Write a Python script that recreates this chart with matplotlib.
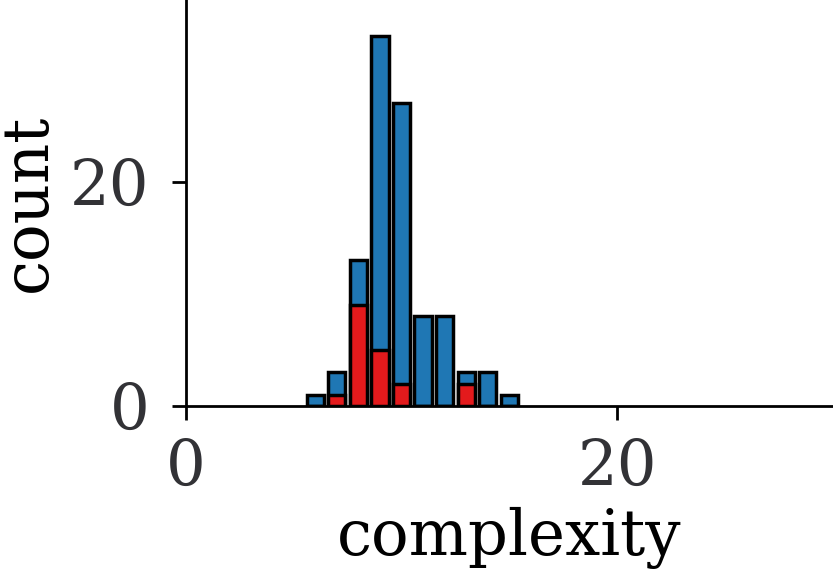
"""Stacked-overlap histogram of complexity counts."""
import matplotlib
matplotlib.use("Agg")
import matplotlib.pyplot as plt

# complexity value per bin, total count, and the red subset
complexity = [6, 7, 8, 9, 10, 11, 12, 13, 14, 15]
total_count = [1, 3, 13, 33, 27, 8, 8, 3, 3, 1]
red_count = [0, 1, 9, 5, 2, 0, 0, 2, 0, 0]

plt.rcParams["font.family"] = "DejaVu Serif"
plt.rcParams["font.size"] = 45

fig = plt.figure(figsize=(8.33, 5.73), dpi=100)
ax = fig.add_axes([185.7 / 833, 167 / 573, 647.3 / 833, 406 / 573])

ax.bar(complexity, total_count, width=0.8, color="#1f77b4",
       edgecolor="black", linewidth=2.5)
ax.bar(complexity, red_count, width=0.8, color="#e31a1c",
       edgecolor="black", linewidth=2.5)

ax.set_xlim(0, 30)
ax.set_ylim(0, 36.2)
ax.set_xticks([0, 20])
ax.set_yticks([0, 20])

for side in ("top", "right"):
    ax.spines[side].set_visible(False)
for side in ("left", "bottom"):
    ax.spines[side].set_linewidth(2)

ax.tick_params(length=10, width=2, labelcolor="#323236")
ax.tick_params(axis="x", pad=13)
ax.tick_params(axis="y", pad=16)
ax.set_xlabel("complexity", labelpad=6)
ax.set_ylabel("count", labelpad=8)

fig.savefig("out.png", dpi=100)
